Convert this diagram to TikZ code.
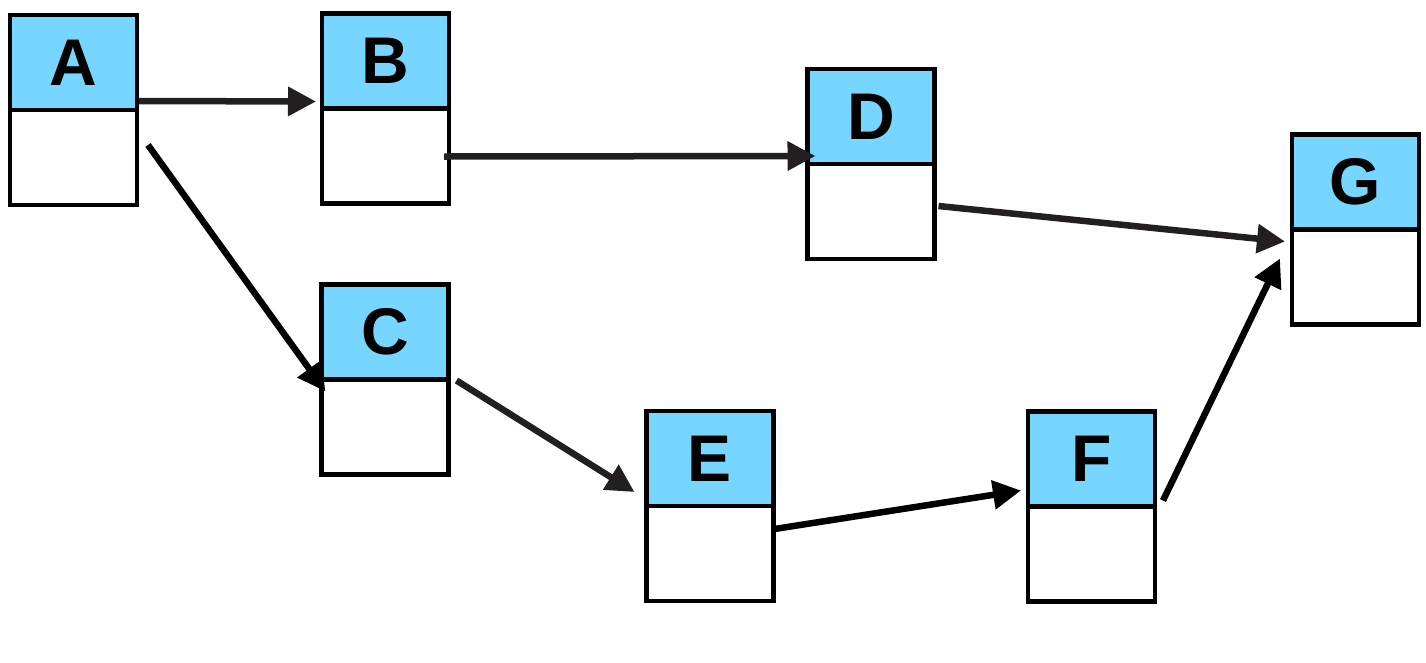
\documentclass[tikz,border=0pt]{standalone}
\usepackage{fontspec}
\setmainfont{Liberation Sans}
\usetikzlibrary{positioning,arrows.meta}
\definecolor{skyblue}{HTML}{76D6FF}
\definecolor{darkline}{HTML}{231F20}
\begin{document}
\begin{tikzpicture}[x=1pt,y=-1pt,
  tophalf/.style={draw=black,line width=4.5pt,fill=skyblue,minimum width=127pt,minimum height=95pt,inner sep=0pt,outer sep=0pt,font=\fontsize{66}{66}\selectfont\bfseries},
  bothalf/.style={draw=black,line width=4.5pt,fill=white,minimum width=127pt,minimum height=95pt,inner sep=0pt,outer sep=0pt,below=0pt of #1},
  conn/.style={line width=6.5pt,draw=darkline,-{Triangle[length=28pt,width=28pt]},shorten >=0pt},
  connk/.style={conn,draw=black}
]
\useasboundingbox (0,0) rectangle (1426,662);
\fill[white] (0,0) rectangle (1426,662);
\node[tophalf] (A) at (73.5,62.5) {A};
\node[bothalf=A] (Ab) {};
\node[tophalf] (B) at (385.5,61) {B};
\node[bothalf=B] (Bb) {};
\node[tophalf] (C) at (385,332) {C};
\node[bothalf=C] (Cb) {};
\node[tophalf] (D) at (871,116.5) {D};
\node[bothalf=D] (Db) {};
\node[tophalf] (E) at (710,458.5) {E};
\node[bothalf=E] (Eb) {};
\node[tophalf] (F) at (1091.5,459) {F};
\node[bothalf=F] (Fb) {};
\node[tophalf] (G) at (1355.5,182) {G};
\node[bothalf=G] (Gb) {};
% connectors
\draw[conn] ([xshift=2pt,yshift=9pt]A.south east) -- ([xshift=-6pt,yshift=7pt]B.south west);
\draw[conn] ([xshift=-5pt,yshift=-48pt]B.south east) -- ([xshift=8pt,yshift=8pt]D.south west);
\draw[conn] ([xshift=4pt,yshift=-42pt]D.south east) -- ([xshift=-7pt,yshift=-12pt]G.south west);
\draw[connk] ([xshift=11pt,yshift=-35pt]A.south east) -- ([xshift=4pt,yshift=-12pt]C.south west);
\draw[conn] ([xshift=8pt,yshift=-1pt]C.south east) -- ([xshift=-12pt,yshift=14pt]E.south west);
\draw[connk] ([xshift=1pt,yshift=-23pt]E.south east) -- ([xshift=-7pt,yshift=16pt]F.south west);
\draw[connk] ([xshift=8pt,yshift=6pt]F.south east) -- ([xshift=-12pt,yshift=-29pt]G.south west);
\end{tikzpicture}
\end{document}
